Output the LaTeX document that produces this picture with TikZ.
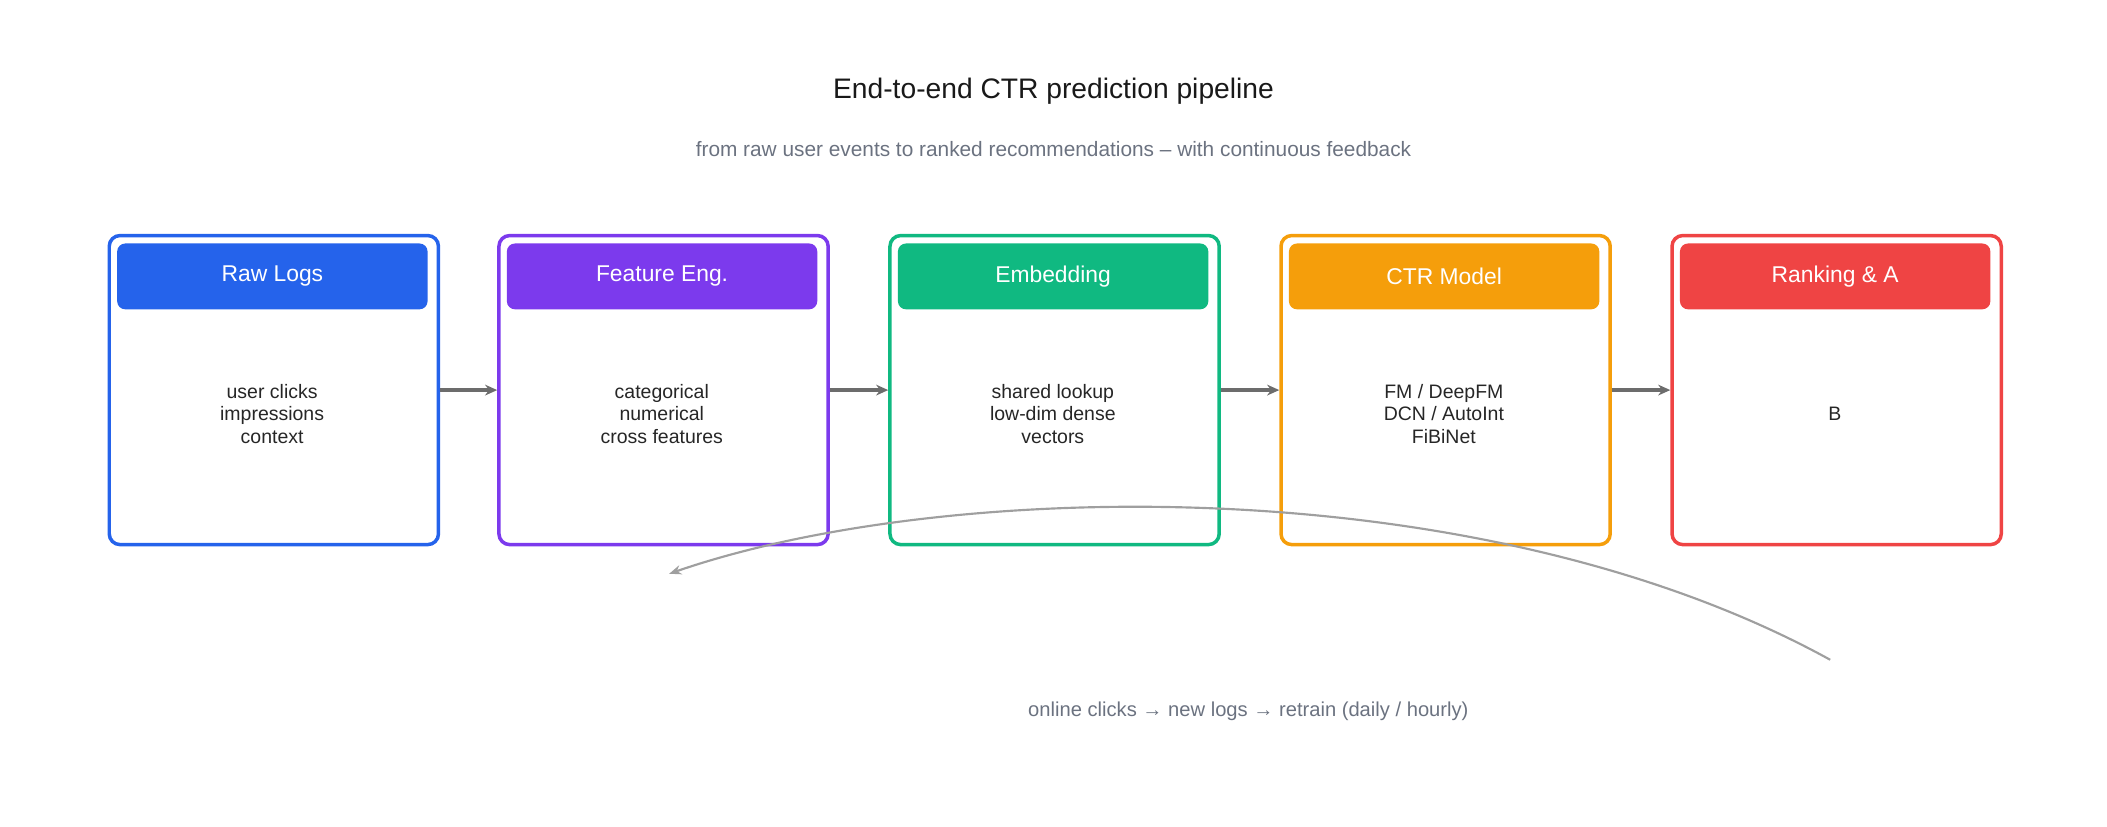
\documentclass[tikz,border=0pt]{standalone}
\usepackage{fontspec}
\setmainfont{Liberation Sans}
\usetikzlibrary{arrows.meta}
\begin{document}
\begin{tikzpicture}[x=1pt,y=1pt,
  box/.style={draw=#1,line width=2.6pt,rounded corners=8pt,minimum width=245pt,minimum height=230pt,anchor=north west},
  hdr/.style={fill=#1,rounded corners=6pt,minimum width=231pt,minimum height=49pt,anchor=north west,text=white,font=\fontsize{17}{20}\selectfont},
  body/.style={align=center,font=\fontsize{14.5}{16.5}\selectfont,text=black!85},
  conn/.style={-{Stealth[length=9pt,width=8pt]},line width=2.6pt,draw=gray!85!black}]
\useasboundingbox (0,0) rectangle (1568,615);
\definecolor{cb}{HTML}{2563EB}\definecolor{cp}{HTML}{7C3AED}\definecolor{cg}{HTML}{10B981}
\definecolor{co}{HTML}{F59E0B}\definecolor{cr}{HTML}{EF4444}\definecolor{sub}{HTML}{6B7280}
\node[font=\fontsize{21}{24}\selectfont,text=black!90] (title) at (784,547) {End-to-end CTR prediction pipeline};
\node[font=\fontsize{15.5}{18}\selectfont,text=sub] (subt) at (784,504) {from raw user events to ranked recommendations -- with continuous feedback};
\foreach \n/\x/\c/\h/\t in {a/80/cb/Raw Logs/{user clicks\\impressions\\context},
  b/370/cp/Feature Eng./{categorical\\numerical\\cross features},
  c/661/cg/Embedding/{shared lookup\\low-dim dense\\vectors},
  d/952/co/CTR Model/{FM / DeepFM\\DCN / AutoInt\\FiBiNet},
  e/1243/cr/Ranking \& A/B/{top-K sort\\< 10 ms p99\\online test}}{
  \node[box=\c] (\n) at (\x,441) {};
  \node[hdr=\c] (\n h) at (\x+7,434) {\h};
  \node[body] (\n t) at (\x+122.5,307) {\t};
}
\draw[conn] (a.east) -- (b.west);
\draw[conn] (b.east) -- (c.west);
\draw[conn] (c.east) -- (d.west);
\draw[conn] (d.east) -- (e.west);
\coordinate (fs) at (1362,124);
\coordinate (fe) at (498,188);
\draw[-{Stealth[length=9pt,width=7pt]},line width=1.6pt,draw=gray!75] (fs) .. controls (1100,268) and (700,258) .. (fe);
\node[font=\fontsize{15}{18}\selectfont,text=sub] (fl) at (929,86) {online clicks → new logs → retrain (daily / hourly)};
\end{tikzpicture}
\end{document}
